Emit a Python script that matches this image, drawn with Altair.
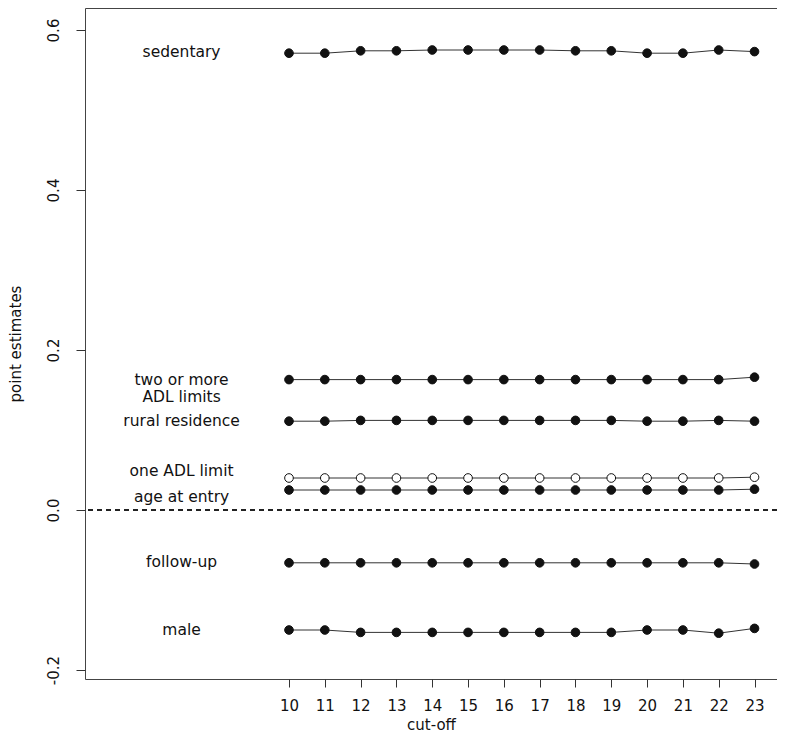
import altair as alt
import pandas as pd

cutoffs = [10, 11, 12, 13, 14, 15, 16, 17, 18, 19, 20, 21, 22, 23]

sedentary = [0.571, 0.571, 0.574, 0.574, 0.575, 0.575, 0.575, 0.575, 0.574, 0.574, 0.571, 0.571, 0.575, 0.573]
two_or_more = [0.163, 0.163, 0.163, 0.163, 0.163, 0.163, 0.163, 0.163, 0.163, 0.163, 0.163, 0.163, 0.163, 0.166]
rural = [0.111, 0.111, 0.112, 0.112, 0.112, 0.112, 0.112, 0.112, 0.112, 0.112, 0.111, 0.111, 0.112, 0.111]
one_adl = [0.040, 0.040, 0.040, 0.040, 0.040, 0.040, 0.040, 0.040, 0.040, 0.040, 0.040, 0.040, 0.040, 0.041]
age_entry = [0.025, 0.025, 0.025, 0.025, 0.025, 0.025, 0.025, 0.025, 0.025, 0.025, 0.025, 0.025, 0.025, 0.026]
follow_up = [-0.066, -0.066, -0.066, -0.066, -0.066, -0.066, -0.066, -0.066, -0.066, -0.066, -0.066, -0.066, -0.066, -0.0675]
male = [-0.150, -0.150, -0.153, -0.153, -0.153, -0.153, -0.153, -0.153, -0.153, -0.153, -0.150, -0.150, -0.154, -0.148]

series_names = ["sedentary", "two_or_more", "rural", "one_adl", "age_entry", "follow_up", "male"]
series_values = [sedentary, two_or_more, rural, one_adl, age_entry, follow_up, male]
series_fill = ["#111111", "#111111", "#111111", "#ffffff", "#111111", "#111111", "#111111"]

label_text = ["sedentary", "two or more\nADL limits", "rural residence", "one ADL limit",
              "age at entry", "follow-up", "male"]
label_x = [7, 7, 7, 7, 7, 7, 7]
label_y = [0.5725, 0.163, 0.111, 0.049, 0.0166, -0.065, -0.150]

y_ticks = [-0.2, 0.0, 0.2, 0.4, 0.6]

rows = []
for name, vals, fill in zip(series_names, series_values, series_fill):
    for c, v in zip(cutoffs, vals):
        rows.append({"series": name, "cutoff": c, "value": v, "fill": fill})
df = pd.DataFrame(rows)

labels_df = pd.DataFrame({"text": label_text, "x": label_x, "y": label_y})

FONT = "DejaVu Sans"

xscale = alt.Scale(domain=[4.303, 23.628], nice=False, zero=False)
yscale = alt.Scale(domain=[-0.21125, 0.6275], nice=False, zero=False)

xaxis = alt.Axis(values=cutoffs, title="cut-off", grid=False, domain=False,
                 tickSize=8, tickColor="#333333", labelPadding=11, labelFontSize=15,
                 labelFont=FONT, labelColor="#111111", titleFont=FONT, titleFontSize=15,
                 titleFontWeight="normal", titleColor="#111111", titlePadding=4,
                 labelFlush=False)
yaxis = alt.Axis(values=y_ticks, title="point estimates", grid=False, domain=False,
                 tickSize=9, tickColor="#333333", labelAngle=-90, labelPadding=15,
                 labelFontSize=15, labelFont=FONT, labelColor="#111111",
                 labelExpr="datum.value < 0 ? '-' + format(-datum.value, '.1f') : format(datum.value, '.1f')",
                 titleFont=FONT, titleFontSize=15, titleFontWeight="normal",
                 titleColor="#111111", titlePadding=23, labelFlush=False)

base = alt.Chart(df)

lines = base.mark_line(color="#333333", strokeWidth=1).encode(
    x=alt.X("cutoff:Q", scale=xscale, axis=xaxis),
    y=alt.Y("value:Q", scale=yscale, axis=yaxis),
    detail="series:N",
)

points = base.mark_point(filled=True, size=75, stroke="#111111", strokeWidth=1,
                         opacity=1, shape="circle").encode(
    x=alt.X("cutoff:Q", scale=xscale),
    y=alt.Y("value:Q", scale=yscale),
    fill=alt.Fill("fill:N", scale=None),
)

zero_rule = alt.Chart(df).mark_rule(color="#222222", strokeDash=[5, 4], strokeWidth=1).encode(
    y=alt.datum(0)
)

labels = alt.Chart(labels_df).mark_text(font=FONT, fontSize=15.5, color="#111111",
                                        align="center", baseline="middle",
                                        lineBreak="\n", lineHeight=17).encode(
    x=alt.X("x:Q", scale=xscale),
    y=alt.Y("y:Q", scale=yscale),
    text="text:N",
)

chart = alt.layer(zero_rule, lines, points, labels).properties(
    width=692, height=671,
    autosize=alt.AutoSizeParams(type="none"),
    padding={"left": 77, "top": 0, "right": 0, "bottom": 55},
    background="white",
).configure_view(stroke="#444444", strokeWidth=1)

chart.save("out.html", embed_options={"renderer": "svg", "actions": False})
